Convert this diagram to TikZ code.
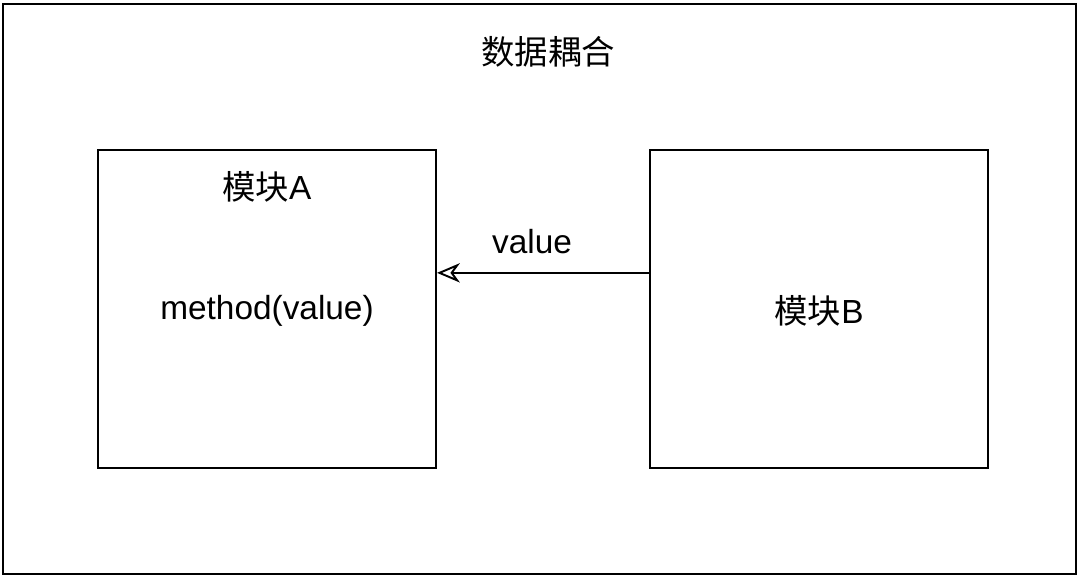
\documentclass[tikz,border=0pt]{standalone}
\usepackage{fontspec}
\setmainfont{Liberation Sans}
\newfontfamily\cjk{Noto Sans CJK SC}
\usetikzlibrary{arrows.meta}
\usetikzlibrary{calc}
\usetikzlibrary{positioning}

\begin{document}
\begin{tikzpicture}[x=0.02cm,y=-0.02cm,auto,semithick]
 				 \tikzstyle{module}=[draw=black, line width=1.2pt, fill=white, minimum width=6.76cm, minimum height=6.36cm, inner sep=0pt]
 				 \tikzstyle{txt}=[font=\fontsize{19}{23}\selectfont, text=black]
 					 \useasboundingbox (0,0) rectangle (1080,577);
 					 \node[draw, line width=1.4pt, minimum width=21.46cm, minimum height=11.4cm] (frame) at (539.5,289) {};
 					 \node[txt]             (title) at (548,52) {\cjk 数据耦合};
 					 \node[module]          (A) at (267,309) {};
 					 \node[module]          (B) [right=4.24cm of A] {};
 					 \node[txt]             (Aname) at ($(A.north)+(0,38)$) {\cjk 模块\rmfamily A};
 					 \node[txt]             (method) at ($(A.center)+(0,2)$) {method(value)};
 					 \node[txt]             (Bname) at ($(B.center)+(0,2)$) {\cjk 模块\rmfamily B};
				\path
				(B.168) edge [-{Stealth[open,length=13pt,width=11pt,inset=4pt,line width=1.1pt]}, line width=1.2pt] node [txt, above=0.24cm, midway, xshift=-0.22cm] {value} (A.12);
\end{tikzpicture}
\end{document}
